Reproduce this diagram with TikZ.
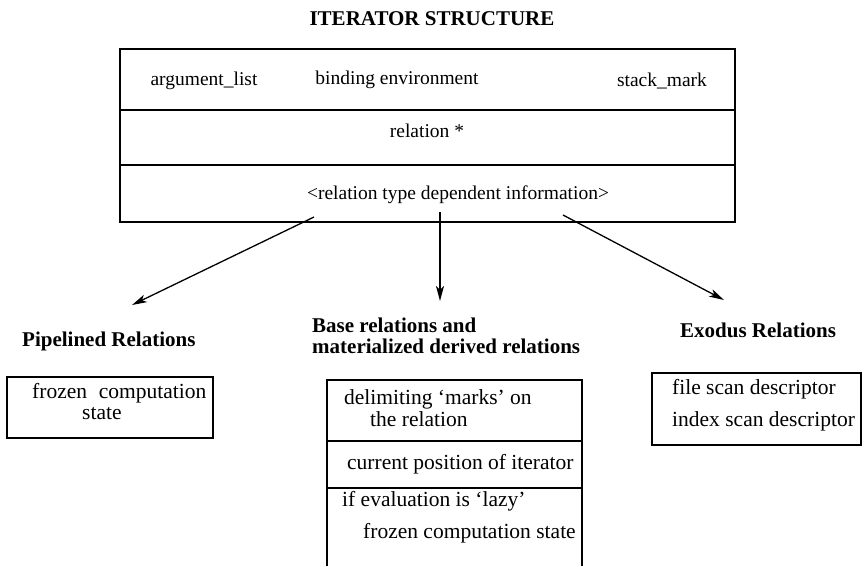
\documentclass[tikz,border=0pt]{standalone}
\usepackage{fontspec}
\setmainfont{Liberation Serif}
\usetikzlibrary{arrows.meta}
\begin{document}
\begin{tikzpicture}[x=1pt,y=-1pt,
  frame/.style={line width=1.2pt},
  body/.style={font=\fontsize{19.5}{23}\selectfont, inner sep=0pt},
  lowbody/.style={font=\fontsize{21.5}{25}\selectfont, inner sep=0pt, anchor=west},
  head/.style={font=\bfseries\fontsize{21}{25}\selectfont, inner sep=0pt},
  conn/.style={line width=1.3pt, -{Stealth[length=15pt,width=8pt,inset=4pt]}}]
\useasboundingbox (0,0) rectangle (865,566);
% title
\node[head] (title) at (432,19) {ITERATOR STRUCTURE};
% main box
\node[frame, draw, minimum width=615pt, minimum height=173pt, inner sep=0pt] (iter) at (427.5,135.5) {};
\draw[frame] (120,110) -- (735,110);
\draw[frame] (120,165) -- (735,165);
\node[body] (arg) at (204,81) {argument\_list};
\node[body] (bind) at (397,80) {binding environment};
\node[body] (stack) at (662,81) {stack\_mark};
\node[body] (rel) at (427,131) {relation *};
\node[body] (dep) at (458,195) {<relation type dependent information>};
% headers
\node[head, anchor=west] (pipe) at (22,341) {Pipelined Relations};
\node[head, anchor=west, align=left] (base) at (312,336) {Base relations and\\[-4pt]materialized derived relations};
\node[head, anchor=west] (exo) at (680,330) {Exodus Relations};
% arrows
\coordinate (aL) at (314,217);
\coordinate (aM) at (440,212);
\coordinate (aR) at (563,215);
\coordinate (tL) at (132,305);
\coordinate (tM) at (440,301);
\coordinate (tR) at (724,300);
\draw[conn] (aL) -- (tL);
\draw[conn] (aM) -- (tM);
\draw[conn] (aR) -- (tR);
% pipelined box
\draw[frame] (7,377) rectangle (213,438);
\node[lowbody] (pf) at (32,393) {frozen\hspace{0.55em}computation};
\node[lowbody] (ps) at (82,414) {state};
% base box
\draw[frame] (327,566) -- (327,380) -- (582,380) -- (582,566);
\draw[frame] (327,441) -- (582,441);
\draw[frame] (327,488) -- (582,488);
\node[lowbody] (b1) at (344,399) {delimiting ‘marks’ on};
\node[lowbody] (b2) at (370,419) {the relation};
\node[lowbody] (b3) at (347,464) {current position of iterator};
\node[lowbody] (b4) at (342,501) {if evaluation is ‘lazy’};
\node[lowbody] (b5) at (363,533) {frozen computation state};
% exodus box
\draw[frame] (652,373) rectangle (861,445);
\node[lowbody] (e1) at (672,389) {file scan descriptor};
\node[lowbody] (e2) at (672,421) {index scan descriptor};
\end{tikzpicture}
\end{document}
